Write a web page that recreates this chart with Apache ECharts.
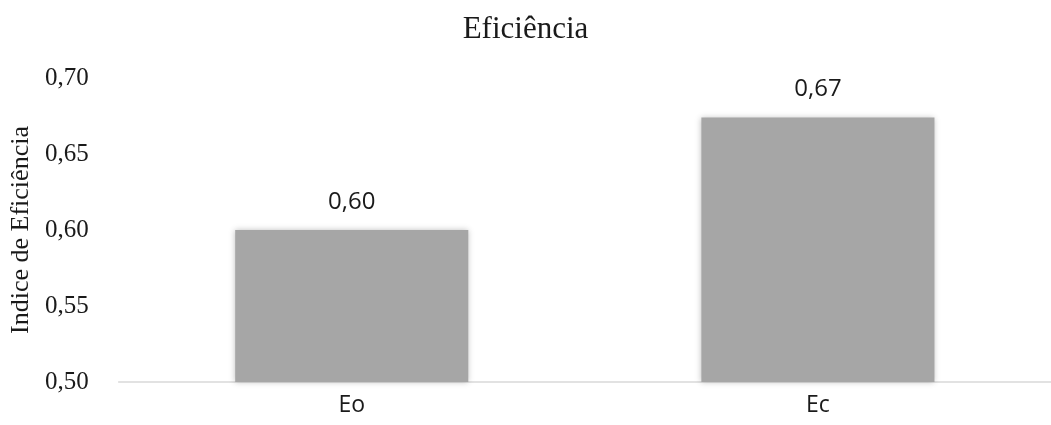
<!DOCTYPE html>
<html>
<head>
<meta charset="utf-8">
<script src="https://cdn.jsdelivr.net/npm/echarts@6/dist/echarts.min.js"></script>
<style>
  html, body { margin: 0; padding: 0; background: #ffffff; }
  #chart { width: 1051px; height: 425px; }
</style>
</head>
<body>
<div id="chart"></div>
<script>
// Efficiency index per configuration
const categories = ['Eo', 'Ec'];
const values = [0.600, 0.674];
const titleText = 'Eficiência';
const yAxisTitle = 'Indice de Eficiência';
const yMin = 0.5, yMax = 0.7, yStep = 0.05;

const fmt = v => v.toFixed(2).replace('.', ',');
const serif = '"Liberation Serif", "Times New Roman", serif';
const sans = '"Open Sans", sans-serif';

const chart = echarts.init(document.getElementById('chart'), null, { renderer: 'canvas' });

chart.setOption({
  animation: false,
  backgroundColor: '#ffffff',
  title: {
    text: titleText,
    left: 'center',
    top: 9,
    textStyle: { fontFamily: serif, fontSize: 31, fontWeight: 'normal', color: '#1a1a1a' }
  },
  grid: { left: 117, top: 78, width: 950, height: 304 },
  xAxis: {
    type: 'category',
    data: categories,
    axisLine: { show: true, lineStyle: { color: '#d9d9d9', width: 1.5 } },
    axisTick: { show: false },
    axisLabel: {
      fontFamily: sans,
      fontSize: 23,
      color: '#1a1a1a',
      margin: 12
    }
  },
  yAxis: {
    type: 'value',
    min: yMin,
    max: yMax,
    interval: yStep,
    name: yAxisTitle,
    nameLocation: 'middle',
    nameGap: 81,
    nameRotate: 90,
    nameTextStyle: { fontFamily: serif, fontSize: 26, color: '#1a1a1a' },
    axisLine: { show: false },
    axisTick: { show: false },
    splitLine: { show: false },
    axisLabel: {
      formatter: fmt,
      fontFamily: serif,
      fontSize: 25,
      color: '#1a1a1a',
      margin: 30
    }
  },
  series: [{
    type: 'bar',
    barWidth: '50%',
    data: values,
    itemStyle: {
      color: '#a6a6a6',
      shadowBlur: 6,
      shadowColor: 'rgba(0,0,0,0.25)'
    },
    label: {
      show: true,
      position: 'top',
      distance: 16,
      formatter: p => fmt(p.value),
      fontFamily: sans,
      fontSize: 24,
      color: '#1a1a1a'
    }
  }]
});
</script>
</body>
</html>
